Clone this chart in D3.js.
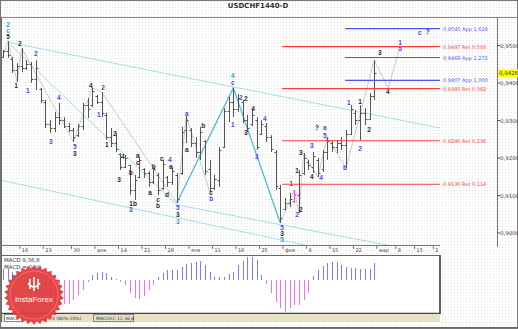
<!DOCTYPE html>
<html>
<head>
<meta charset="utf-8">
<script src="https://cdn.jsdelivr.net/npm/d3@7"></script>
<style>
  html, body { margin: 0; padding: 0; background: #fff; }
  svg { display: block; font-family: "DejaVu Sans", Verdana, sans-serif; }
</style>
</head>
<body>
<div id="chart"></div>
<script>
// Daily bars, USDCHF (index 0 = first visible bar)
const highs = [.9488,.9512,.9469,.9453,.9493,.9461,.9456,.9461,.9387,.9355,
  .9301,.9323,.9347,.9309,.9293,.9280,.9291,.9347,.9360,.9387,
  .9368,.9376,.9320,.9280,.9267,.9213,.9208,.9181,.9155,.9203,
  .9173,.9165,.9176,.9160,.9195,.9152,.9176,.9160,.9283,.9312,
  .9280,.9256,.9283,.9248,.9195,.9155,.9229,.9333,.9363,.9387,
  .9371,.9355,.9315,.9328,.9309,.9301,.9293,.9261,.9221,.9128,
  .9093,.9107,.9115,.9168,.9213,.9195,.9216,.9200,.9221,.9256,
  .9248,.9248,.9256,.9275,.9341,.9328,.9341,.9333,.9373,.9461];
const lows = [.9467,.9467,.9427,.9403,.9429,.9435,.9400,.9381,.9347,.9280,
  .9267,.9269,.9288,.9280,.9269,.9243,.9256,.9275,.9307,.9336,
  .9344,.9309,.9248,.9229,.9216,.9168,.9173,.9101,.9088,.9147,
  .9147,.9123,.9131,.9101,.9115,.9123,.9128,.9080,.9155,.9240,
  .9229,.9200,.9195,.9155,.9109,.9115,.9123,.9227,.9296,.9309,
  .9323,.9293,.9269,.9285,.9221,.9261,.9243,.9216,.9115,.9027,
  .9061,.9069,.9080,.9053,.9155,.9168,.9160,.9149,.9163,.9195,
  .9216,.9213,.9221,.9173,.9261,.9288,.9248,.9288,.9301,.9355];
const opens = [.9470,.9485,.9465,.9435,.9445,.9440,.9450,.9410,.9385,.9350,
  .9290,.9280,.9310,.9300,.9285,.9275,.9260,.9285,.9340,.9340,
  .9365,.9350,.9315,.9255,.9240,.9210,.9175,.9180,.9115,.9150,
  .9170,.9160,.9135,.9155,.9120,.9150,.9135,.9155,.9160,.9275,
  .9275,.9240,.9215,.9245,.9170,.9120,.9140,.9230,.9325,.9350,
  .9330,.9350,.9300,.9290,.9300,.9265,.9285,.9255,.9215,.9120,
  .9065,.9080,.9085,.9100,.9160,.9190,.9175,.9195,.9170,.9215,
  .9240,.9230,.9240,.9235,.9265,.9320,.9300,.9320,.9305,.9365];
const closes = [.9485,.9475,.9435,.9445,.9440,.9450,.9410,.9440,.9355,.9290,
  .9280,.9310,.9300,.9285,.9275,.9255,.9285,.9340,.9330,.9380,
  .9350,.9320,.9255,.9240,.9225,.9175,.9200,.9115,.9140,.9195,
  .9160,.9135,.9170,.9115,.9185,.9135,.9165,.9090,.9270,.9300,
  .9240,.9215,.9270,.9165,.9120,.9145,.9220,.9325,.9350,.9330,
  .9360,.9300,.9280,.9315,.9230,.9290,.9255,.9225,.9125,.9040,
  .9080,.9090,.9105,.9155,.9200,.9180,.9205,.9160,.9215,.9245,
  .9230,.9240,.9235,.9265,.9330,.9300,.9320,.9305,.9365,.9426];
const markedBar = 62;
const lastPrice = 0.9426;

// MACD histogram (points)
const macdHist = [11,11,8,4,-2,-8,-14,-18,-22,-25,
  -27,-27,-25,-24,-24,-20,-15,-10,-2,5,
  7,8,7,3,1,-2,-5,-13,-18,-19,
  -16,-10,-5,3,7,10,10,10,13,16,
  17,18,19,15,8,3,3,3,6,8,
  15,19,23,23,20,5,-4,-13,-22,-28,
  -32,-28,-25,-25,-20,-13,4,10,14,17,
  18,18,15,13,12,12,11,11,11,17];

// x axis ticks (bar index) and labels
const tickIdx = [4,9,15,20,25,30,35,40,45,50,55,60,65,70,75,80,84,88,92];
const tickLabels = ["16","23","30","дек","14","21","28","янв","11","18","25","фев","8","15","22","мар","8","15","2"];
const priceTicks = [0.90, 0.91, 0.92, 0.93, 0.94, 0.95];

// Fibonacci levels
const fibValues = [0.9545, 0.9497, 0.9468, 0.9407, 0.9385, 0.9246, 0.9130];
const fibNames  = ["App 1,618","Ret 0,500","App 1,272","App 1,000","Ret 0,382","Ret 0,236","Ret 0,114"];
const fibStart  = [72.8, 59.4, 72.8, 72.8, 59.4, 59.4, 59.4];
const fibKind   = ["app","ret","app","app","ret","ret","ret"];

// channel lines [idx, price] pairs
const channels = [
  [[1, .9509], [93, .9280]],
  [[1, .9509], [37, .9075]],
  [[-0.6, .9141], [93, .8891]],
  [[37, .9075], [93, .8941]]
];
// wave zigzags
const grayWaves = [
  [[0, .9470], [1, .9512], [3, .9403], [4, .9493], [15, .9243], [19, .9387], [21, .9376], [37, .9080]],
  [[37, .9080], [39, .9312], [44, .9109]],
  [[59, .9027], [62, .9115], [63, .9053], [64, .9213], [67, .9149], [69, .9256], [73, .9173], [79, .9461], [82, .9387], [84.5, .9497]]
];
const cyanWave = [[37, .9080], [49, .9387], [59, .9027]];

// wave labels [idx, price, text, colour]
const waveLabels = [
  [1.1,.9555,"2","c"],[1.1,.9539,"c","c"],[1.1,.9523,"5","k"],[3.6,.9504,"2","k"],[2.8,.9392,"1","k"],
  [7.0,.9477,"2","b"],[5.3,.9379,"1","b"],[11.9,.9360,"4","b"],[10.2,.9243,"3","b"],
  [15.3,.9229,"5","b"],[15.3,.9211,"3","k"],[18.7,.9392,"4","k"],[21.3,.9387,"2","b"],[20.4,.9315,"1","b"],
  [22.1,.9235,"1","k"],[23.8,.9264,"2","k"],[24.7,.9141,"3","k"],[25.5,.9203,"4","k"],
  [27.2,.9160,"b","k"],[27.7,.9077,"1b","k"],[27.2,.9061,"3","b"],[28.7,.9205,"a","k"],[28.7,.9187,"c","k"],
  [31.3,.9107,"a","k"],[32.1,.9176,"b","k"],[33.0,.9088,"c","k"],[33.0,.9072,"b","k"],[33.8,.9197,"c","k"],
  [35.5,.9195,"4","b"],[35.7,.9176,"a","k"],[34.9,.9101,"d","k"],
  [37.2,.9067,"5","b"],[37.2,.9048,"3","k"],[37.2,.9029,"3","c"],
  [39.1,.9317,"a","b"],[39.1,.9221,"a","k"],[42.6,.9285,"b","k"],[44.3,.9107,"c","k"],[44.3,.9091,"b","b"],
  [48.9,.9419,"4","c"],[48.9,.9400,"c","b"],[48.9,.9288,"1","b"],[50.6,.9360,"2","b"],[51.7,.9357,"2","k"],
  [51.7,.9267,"3","k"],[53.2,.9331,"4","k"],[55.7,.9304,"4","b"],[54.0,.9203,"3","b"],
  [59.4,.9013,"5","b"],[59.4,.8997,"3","k"],[59.4,.8981,"5","c"],
  [61.3,.9131,"1","b"],[62.6,.9048,"2","b"],[63.4,.9061,"2","k"],[62.6,.9165,"1","k"],[63.4,.9213,"3","k"],
  [65.7,.9232,"3","b"],[65.7,.9149,"4","k"],[67.7,.9147,"4","b"],
  [66.8,.9280,"?","k"],[68.5,.9280,"a","b"],[68.5,.9259,"5","b"],[72.8,.9173,"b","b"],
  [73.6,.9347,"1","b"],[76.0,.9224,"2","b"],[76.0,.9349,"1","k"],[77.9,.9275,"2","k"],
  [80.2,.9480,"3","k"],[81.9,.9376,"4","k"],[84.5,.9507,"1","b"],[84.5,.9491,"5","b"],
  [88.7,.9533,"c","b"],[90.4,.9536,"?","k"]
];
const labelColors = { b: "#4848ee", k: "#2a2a2a", c: "#2aa6cc" };

// ---------------------------------------------------------------
const W = 518, H = 329;
const svg = d3.select("#chart").append("svg").attr("width", W).attr("height", H);

const defs = svg.append("defs");
const pat = defs.append("pattern").attr("id", "dots").attr("width", 3).attr("height", 3)
  .attr("patternUnits", "userSpaceOnUse");
pat.append("rect").attr("width", 3).attr("height", 3).attr("fill", "#fff");
pat.append("rect").attr("x", 1).attr("y", 1).attr("width", 1).attr("height", 1).attr("fill", "#e2e2e2");
defs.append("clipPath").attr("id", "plotClip").append("rect")
  .attr("x", 2).attr("y", 18).attr("width", 495).attr("height", 227);

svg.append("rect").attr("width", W).attr("height", H).attr("fill", "url(#dots)");

const x = d3.scaleLinear().domain([0, 93]).range([3, 440]);
const y = d3.scaleLinear().domain([0.90, 0.95]).range([233, 45.5]);
const ym = d3.scaleLinear().domain([-35, 25]).range([315, 255]);

// title and frame
svg.append("text").attr("x", 258).attr("y", 8).attr("text-anchor", "middle")
  .attr("font-size", 7).attr("font-weight", "bold").attr("fill", "#333").text("USDCHF1440-D");
svg.append("line").attr("x1", 0).attr("x2", W).attr("y1", 17.5).attr("y2", 17.5).attr("stroke", "#888");
svg.append("line").attr("x1", 1.5).attr("x2", 1.5).attr("y1", 17).attr("y2", 322).attr("stroke", "#666");
svg.append("line").attr("x1", 497.5).attr("x2", 497.5).attr("y1", 17).attr("y2", 247).attr("stroke", "#777");
svg.append("line").attr("x1", 1).attr("x2", 440).attr("y1", 245.5).attr("y2", 245.5).attr("stroke", "#777");
svg.append("rect").attr("x", 0.5).attr("y", 0.5).attr("width", W - 1).attr("height", H - 1)
  .attr("fill", "none").attr("stroke", "#777");

// right price axis
const pa = svg.append("g");
priceTicks.forEach(p => {
  pa.append("line").attr("x1", 497).attr("x2", 500).attr("y1", y(p)).attr("y2", y(p)).attr("stroke", "#555");
  pa.append("text").attr("x", 500).attr("y", y(p) + 2).attr("font-size", 5.5).attr("fill", "#444")
    .text(d3.format(".4f")(p).replace(".", ","));
});
pa.append("rect").attr("x", 498).attr("y", y(lastPrice) - 4).attr("width", 20).attr("height", 8).attr("fill", "#ffff00");
pa.append("text").attr("x", 499).attr("y", y(lastPrice) + 2).attr("font-size", 5.5).attr("fill", "#333")
  .text(d3.format(".4f")(lastPrice).replace(".", ","));

// x axis ticks
const xa = svg.append("g");
tickIdx.forEach((t, i) => {
  xa.append("line").attr("x1", x(t) - 2).attr("x2", x(t) - 2).attr("y1", 245).attr("y2", 249).attr("stroke", "#777");
  xa.append("text").attr("x", x(t)).attr("y", 252).attr("font-size", 5).attr("fill", "#444").text(tickLabels[i]);
});

// plot layers
const plot = svg.append("g").attr("clip-path", "url(#plotClip)");

const line = d3.line().x(d => x(d[0])).y(d => y(d[1]));
channels.forEach(c => {
  plot.append("path").attr("d", line(c)).attr("fill", "none").attr("stroke", "#a6dbe9").attr("stroke-width", 1);
});
grayWaves.forEach(w => {
  plot.append("path").attr("d", line(w)).attr("fill", "none").attr("stroke", "#c8c8c8").attr("stroke-width", 1);
});
plot.append("path").attr("d", line(cyanWave)).attr("fill", "none").attr("stroke", "#4cbad8").attr("stroke-width", 1.3);

// fib levels
const fibG = svg.append("g");
fibValues.forEach((v, i) => {
  const col = fibKind[i] === "ret" ? "#ff3c3c" : "#5050ff";
  fibG.append("line").attr("x1", x(fibStart[i])).attr("x2", x(93))
    .attr("y1", y(v)).attr("y2", y(v)).attr("stroke", col).attr("stroke-width", 1.1);
  fibG.append("text").attr("x", 443).attr("y", y(v) + 2).attr("font-size", 5).attr("fill", col)
    .text(d3.format(".4f")(v).replace(".", ",") + " " + fibNames[i]);
});

// OHLC bars
const bars = plot.append("g");
highs.forEach((h, i) => {
  const col = i === markedBar ? "#ff40ff" : "#555";
  const cx = Math.round(x(i)) + 0.5;
  bars.append("line").attr("x1", cx).attr("x2", cx).attr("y1", y(h)).attr("y2", y(lows[i])).attr("stroke", col);
  bars.append("line").attr("x1", cx - 2).attr("x2", cx).attr("y1", Math.round(y(opens[i])) + 0.5)
    .attr("y2", Math.round(y(opens[i])) + 0.5).attr("stroke", col);
  bars.append("line").attr("x1", cx).attr("x2", cx + 2).attr("y1", Math.round(y(closes[i])) + 0.5)
    .attr("y2", Math.round(y(closes[i])) + 0.5).attr("stroke", col);
});

// wave labels
plot.append("g").selectAll("text").data(waveLabels).join("text")
  .attr("x", d => x(d[0])).attr("y", d => y(d[1]) + 2.3)
  .attr("text-anchor", "middle").attr("font-size", 6.5).attr("font-weight", "bold")
  .attr("font-family", "'Liberation Sans', Arial, sans-serif")
  .attr("fill", d => labelColors[d[3]]).text(d => d[2]);

// MACD panel
const mp = svg.append("g");
mp.append("rect").attr("x", 1.5).attr("y", 255.5).attr("width", 438.5).attr("height", 58)
  .attr("fill", "#fff").attr("stroke", "#666");
mp.append("line").attr("x1", 440).attr("x2", 440).attr("y1", 255).attr("y2", 314).attr("stroke", "#444").attr("stroke-width", 1.5);
mp.append("line").attr("x1", 2).attr("x2", 440).attr("y1", 313.5).attr("y2", 313.5).attr("stroke", "#444").attr("stroke-width", 1.5);
macdHist.forEach((v, i) => {
  mp.append("line").attr("x1", Math.round(x(i)) + 0.5).attr("x2", Math.round(x(i)) + 0.5)
    .attr("y1", ym(0)).attr("y2", ym(v)).attr("stroke", v >= 0 ? "#7c7cff" : "#f070f0").attr("stroke-width", 1);
});
mp.append("text").attr("x", 4).attr("y", 262).attr("font-size", 5.5).attr("fill", "#333").text("MACD 9,36,6");
const mt = mp.append("text").attr("x", 4).attr("y", 269).attr("font-size", 5.5).attr("fill", "#333");
mt.append("tspan").text("MACD = ");
mt.append("tspan").attr("fill", "#3b3bff").text("0,00");

// tab bar
const tb = svg.append("g");
tb.append("rect").attr("x", 2).attr("y", 314).attr("width", 438).attr("height", 8).attr("fill", "#e8e2c4");
tb.append("rect").attr("x", 4.5).attr("y", 314.5).attr("width", 18).attr("height", 7).attr("fill", "#fff").attr("stroke", "#888");
tb.append("text").attr("x", 6).attr("y", 320).attr("font-size", 4.5).attr("fill", "#333").text("MACD");
tb.append("text").attr("x", 26).attr("y", 320).attr("font-size", 4.5).attr("fill", "#333").text("Stoch(13,3,3 (80%-20%)");
tb.append("rect").attr("x", 93.5).attr("y", 314.5).attr("width", 40).attr("height", 7).attr("fill", "none").attr("stroke", "#888");
tb.append("text").attr("x", 96).attr("y", 320).attr("font-size", 4.5).attr("fill", "#333").text("MACOSC 12,36,6");
svg.append("line").attr("x1", 0).attr("x2", W).attr("y1", 327.5).attr("y2", 327.5).attr("stroke", "#666");

// InstaForex badge
const lg = svg.append("g").attr("transform", "translate(34,295)");
const spikes = 30;
const star = d3.range(spikes * 2).map(k => {
  const a = k * Math.PI / spikes, r = k % 2 ? 26.5 : 30;
  return [Math.sin(a) * r, -Math.cos(a) * r];
});
lg.append("path").attr("d", d3.line()(star) + "Z").attr("fill", "#e03a3a").attr("opacity", 0.93);
lg.append("circle").attr("r", 24).attr("fill", "none").attr("stroke", "#f27a7a").attr("stroke-width", 0.8);
lg.append("path").attr("d", "M-4,-16 L-4,-6 M0,-18 L0,-4 M4,-16 L4,-6 M-6,-12 Q0,-4 6,-12")
  .attr("fill", "none").attr("stroke", "#fff").attr("stroke-width", 1.6);
lg.append("text").attr("y", 7).attr("text-anchor", "middle").attr("font-size", 8)
  .attr("font-family", "'Liberation Sans', Arial, sans-serif").attr("fill", "#fff").text("InstaForex");
</script>
</body>
</html>
